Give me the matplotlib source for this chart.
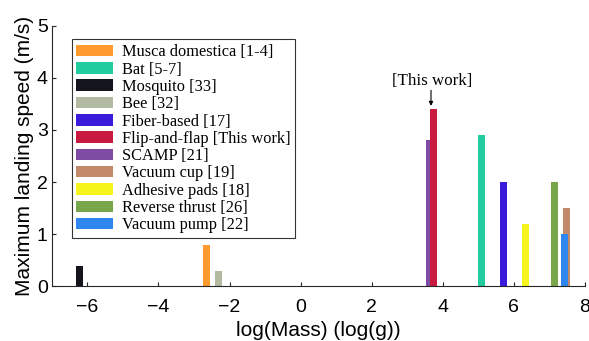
import matplotlib
matplotlib.use("Agg")
import matplotlib.pyplot as plt
from matplotlib.patches import Patch

labels = ["Musca domestica [1-4]", "Bat [5-7]", "Mosquito [33]", "Bee [32]",
          "Fiber-based [17]", "Flip-and-flap [This work]", "SCAMP [21]",
          "Vacuum cup [19]", "Adhesive pads [18]", "Reverse thrust [26]",
          "Vacuum pump [22]"]
log_mass = [-2.66, 5.08, -6.21, -2.30, 5.71, 3.75, 3.64, 7.49, 6.32, 7.15, 7.43]
speed = [0.8, 2.9, 0.4, 0.3, 2.0, 3.4, 2.8, 1.5, 1.2, 2.0, 1.0]
colors = ["#FF9A2E", "#22CC9E", "#14141E", "#B2BBA2", "#3B1BDB", "#C8193F",
          "#7E4DA3", "#C2896A", "#F5F51C", "#78A64B", "#2F86EE"]
xticks = [-6, -4, -2, 0, 2, 4, 6, 8]
yticks = [0, 1, 2, 3, 4, 5]

fig = plt.figure(figsize=(5.89, 3.41), dpi=100)
ax = fig.add_axes([0.088, 0.16, 0.905, 0.765])

# draw order so overlapping bars match reference
order = [2, 0, 3, 6, 5, 1, 4, 8, 9, 7, 10]
for i in order:
    ax.bar(log_mass[i], speed[i], width=0.2, color=colors[i], zorder=2)

ax.set_xlim(-7, 8)
ax.set_ylim(0, 5)
ax.set_xticks(xticks)
ax.set_yticks(yticks)
ax.tick_params(direction="in", length=3, labelsize=14, colors="#262626",
               labelcolor="black")
for t in ax.get_xticklabels() + ax.get_yticklabels():
    t.set_family("Liberation Sans")
ax.tick_params(axis="x", pad=9)
ax.tick_params(axis="y", pad=3)
ax.spines["top"].set_visible(False)
ax.spines["right"].set_visible(False)
ax.spines["left"].set_color("#262626")
ax.spines["bottom"].set_color("#262626")
ax.set_xlabel("log(Mass) (log(g))", fontsize=15, family="Liberation Sans", labelpad=3.5)
ax.set_ylabel("Maximum landing speed (m/s)", fontsize=15, family="Liberation Sans", labelpad=2)

handles = [Patch(facecolor=c, edgecolor="none") for c in colors]
leg = ax.legend(handles, labels, loc="upper left", bbox_to_anchor=(0.037, 0.947),
                prop={"family": "Liberation Serif", "size": 11.8}, frameon=True,
                fancybox=False, edgecolor="black", handlelength=2.25,
                handleheight=0.7, labelspacing=0.08, borderpad=0.3,
                handletextpad=0.5, borderaxespad=0)
leg.get_frame().set_linewidth(0.8)

ax.text(3.69, 3.93, "[This work]", ha="center", va="center", fontsize=12.2,
        family="Liberation Serif")
ax.annotate("", xy=(3.67, 3.46), xytext=(3.67, 3.76),
            arrowprops=dict(arrowstyle="-|>", color="black", lw=0.8,
                            mutation_scale=6, shrinkA=0, shrinkB=0))

fig.savefig("out.png", dpi=100)
